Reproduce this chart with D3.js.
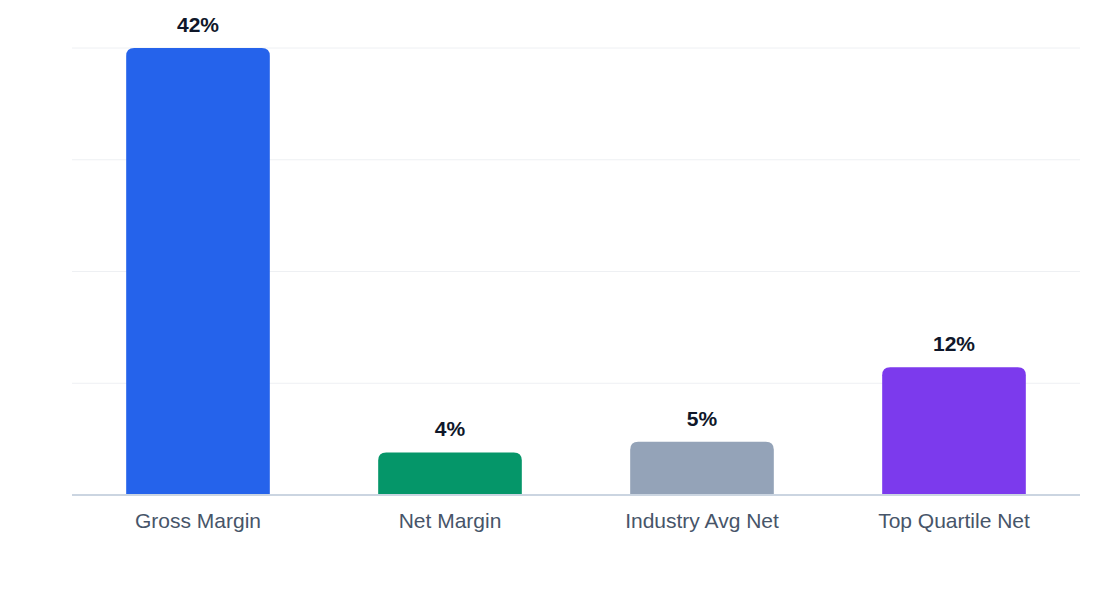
<!DOCTYPE html><html><head><script src="https://cdn.jsdelivr.net/npm/d3@7"></script>
<style>body{margin:0;background:#fff}</style></head><body><svg width="1120" height="600"></svg><script>
const categories=["Gross Margin","Net Margin","Industry Avg Net","Top Quartile Net"];
const values=[42,4,5,12];
const colors=["#2563eb","#059669","#94a3b8","#7c3aed"];
const svg=d3.select("svg"),font="Liberation Sans, Arial, sans-serif";
const x=d3.scaleBand().domain(categories).range([72,1080]).paddingInner(0.43).paddingOuter(0.215);
const y=d3.scaleLinear().domain([0,42]).range([495,48]);
[0.25,0.5,0.75,1].forEach(f=>svg.append("line").attr("x1",72).attr("x2",1080).attr("y1",y(42*f)).attr("y2",y(42*f)).attr("stroke","#eef0f3").attr("stroke-width",1));
svg.selectAll("path.bar").data(values).join("path").attr("fill",(d,i)=>colors[i]).attr("d",(d,i)=>{
 const x0=x(categories[i]),w=x.bandwidth(),t=y(d),b=y(0),r=8;
 return `M${x0},${b}V${t+r}Q${x0},${t} ${x0+r},${t}H${x0+w-r}Q${x0+w},${t} ${x0+w},${t+r}V${b}Z`;});
svg.append("line").attr("x1",72).attr("x2",1080).attr("y1",495).attr("y2",495).attr("stroke","#cbd5e1").attr("stroke-width",2);
svg.selectAll("text.v").data(values).join("text").attr("x",(d,i)=>x(categories[i])+x.bandwidth()/2).attr("y",d=>y(d)-16)
 .attr("text-anchor","middle").attr("font-family",font).attr("font-weight","bold").attr("font-size",21).attr("fill","#0f172a").text(d=>d+"%");
const ax=svg.append("g").attr("transform","translate(0,495)").call(d3.axisBottom(x).tickSize(0).tickPadding(18));
ax.select(".domain").remove();
ax.selectAll("text").attr("font-family",font).attr("font-size",21).attr("fill","#475569");
</script></body></html>
